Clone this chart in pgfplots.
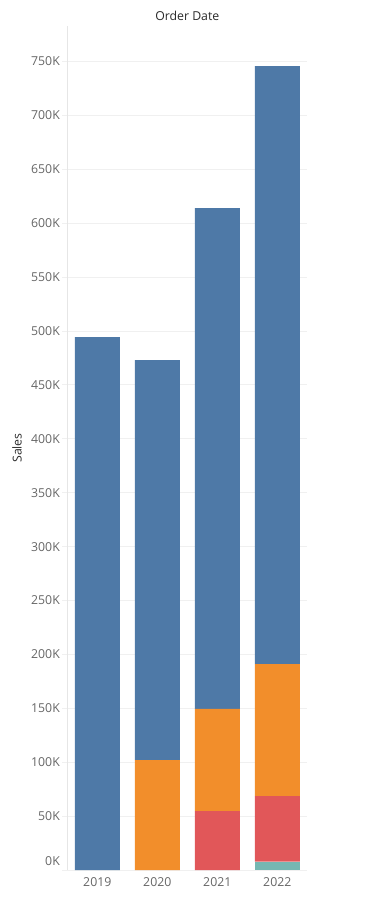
\documentclass[border=0pt]{standalone}
\usepackage{pgfplots}
\pgfplotsset{compat=1.18}
\usepackage{pgfplotstable}
\usepackage{fontspec}
\setmainfont{Open Sans}
\definecolor{tblue}{HTML}{4E79A7}
\definecolor{torange}{HTML}{F28E2B}
\definecolor{tred}{HTML}{E15759}
\definecolor{tteal}{HTML}{76B7B2}
\definecolor{gridgray}{HTML}{F0F0F0}
\definecolor{axisgray}{HTML}{E6E6E6}
\definecolor{ticktext}{HTML}{666666}
\definecolor{titletext}{HTML}{2A2A2A}

\pgfplotstableread{
x teal red orange blue
0 0   0    0     494.4
1 0   0    102.0 371.1
2 0   54.7 94.7  464.7
3 7.7 60.9 122.5 554.7
}\salesdata

\begin{document}
\begin{tikzpicture}
\useasboundingbox (-67.3pt,-27pt) rectangle (320.7pt,870pt);
\begin{axis}[
  at={(0,0)}, anchor=south west,
  scale only axis, width=240pt, height=844pt,
  ybar stacked, bar width=45pt,
  xmin=-0.5, xmax=3.5, ymin=0, ymax=783,
  axis x line*=bottom, axis y line*=left,
  axis line style={draw=axisgray, line width=1pt, -},
  xtick={0,1,2,3}, xticklabels={2019,2020,2021,2022},
  x tick style={draw=none},
  extra x ticks={-0.5,0.5,1.5,2.5,3.5},
  extra x tick labels={},
  extra x tick style={tick style={draw=axisgray, line width=1pt}, major tick length=4pt, tick align=outside},
  ytick={50,100,150,200,250,300,350,400,450,500,550,600,650,700,750},
  yticklabels={50K,100K,150K,200K,250K,300K,350K,400K,450K,500K,550K,600K,650K,700K,750K},
  extra y ticks={0}, extra y tick labels={0K},
  extra y tick style={yticklabel style={yshift=8.4pt}},
  y tick style={draw=gridgray, line width=1pt},
  major tick length=5pt, tick align=outside,
  ymajorgrids, grid style={draw=gridgray, line width=1pt},
  tick label style={font=\fontsize{12.3}{14}\selectfont, text=ticktext},
  yticklabel style={anchor=east, inner sep=0pt, xshift=-2.3pt},
  xticklabel style={anchor=base, inner sep=0pt, yshift=-11.7pt},
  title={Order Date},
  title style={at={(axis description cs:0.5,1)}, anchor=base, yshift=-1pt, inner sep=0pt, font=\fontsize{12.3}{14}\selectfont, text=titletext},
  ylabel={Sales},
  ylabel style={at={(axis description cs:-0.19,0.5)}, anchor=base, inner sep=0pt, font=\fontsize{12.3}{14}\selectfont, text=titletext},
]
\addplot[fill=tteal, draw=none] table[x=x, y=teal] {\salesdata};
\addplot[fill=tred, draw=none] table[x=x, y=red] {\salesdata};
\addplot[fill=torange, draw=none] table[x=x, y=orange] {\salesdata};
\addplot[fill=tblue, draw=none] table[x=x, y=blue] {\salesdata};
\end{axis}
\end{tikzpicture}
\end{document}
